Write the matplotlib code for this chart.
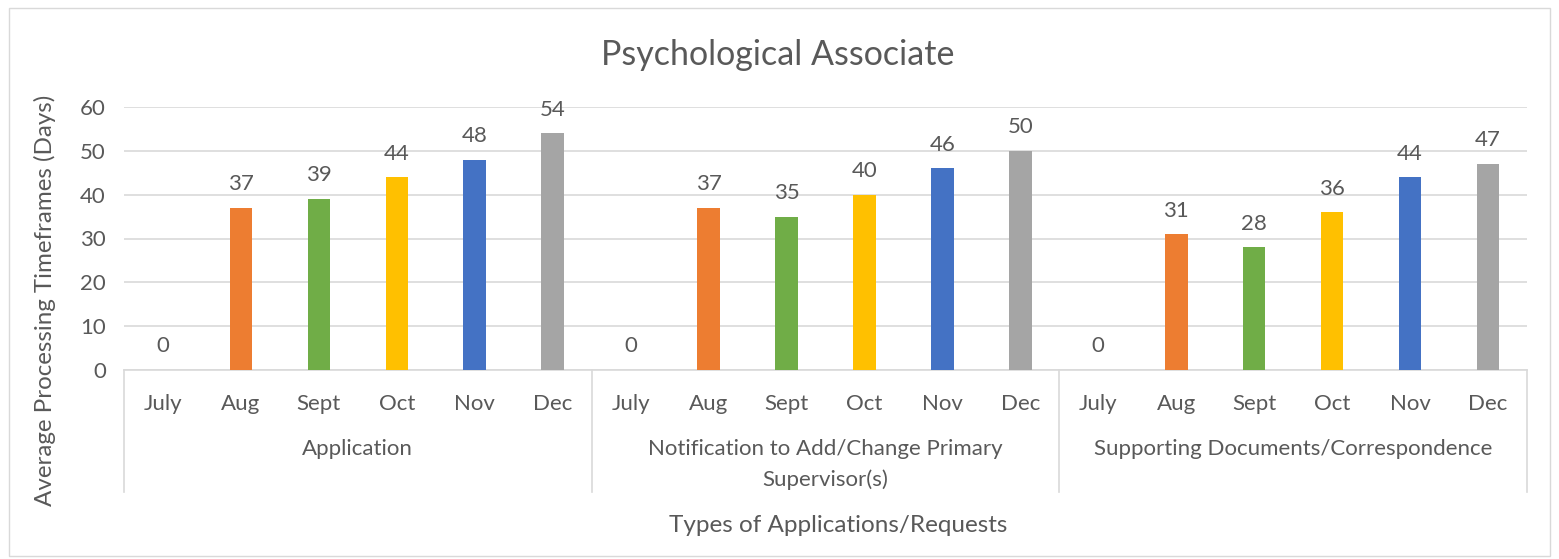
import matplotlib
matplotlib.use("Agg")
import matplotlib.pyplot as plt
import matplotlib.transforms as mtransforms
from matplotlib.patches import Rectangle

months = ["July", "Aug", "Sept", "Oct", "Nov", "Dec"]
groups = ["Application", "Notification to Add/Change Primary\nSupervisor(s)",
          "Supporting Documents/Correspondence"]
application = [0, 37, 39, 44, 48, 54]
notification = [0, 37, 35, 40, 46, 50]
supporting = [0, 31, 28, 36, 44, 47]
month_colors = ["#5B9BD5", "#ED7D31", "#70AD47", "#FFC000", "#4472C4", "#A5A5A5"]

txt = "#595959"
plt.rcParams['font.family'] = ['Lato', 'DejaVu Sans']

fig = plt.figure(figsize=(15.59, 5.59), dpi=100)
ax = fig.add_axes([124/1559, 1-370/559, (1527-124)/1559, (370-107)/559])

values = application + notification + supporting
xs = list(range(len(values)))
cols = month_colors * 3
ax.bar(xs, values, width=0.29, color=cols, zorder=3)
for x, v in zip(xs, values):
    ax.annotate(str(v), (x, v), xytext=(0, 17), textcoords='offset points',
                ha='center', va='center', fontsize=16, color=txt)

ax.set_xlim(-0.5, len(values) - 0.5)
ax.set_ylim(0, 60)
ax.set_yticks(range(0, 61, 10))
ax.set_xticks(xs, months * 3)
ax.tick_params(axis='both', length=0, labelsize=16, labelcolor=txt)
ax.tick_params(axis='y', pad=13)
ax.tick_params(axis='x', pad=17)
ax.grid(axis='y', color='#D9D9D9', linewidth=1.2, zorder=0)
for s in ['top', 'right', 'left']:
    ax.spines[s].set_visible(False)
ax.spines['bottom'].set_color('#D9D9D9')
ax.spines['bottom'].set_linewidth(1.2)

trans = mtransforms.blended_transform_factory(ax.transData, ax.transAxes)
for b in [-0.5, 5.5, 11.5, 17.5]:
    ax.plot([b, b], [0, -122/263], transform=trans, color='#D9D9D9',
            linewidth=1.2, clip_on=False)
for i, g in enumerate(groups):
    ax.text(i * 6 + 2.5, -69/263, g, transform=trans, ha='center', va='top',
            fontsize=16, color=txt, linespacing=1.65)

fig.text(778/1559, 1-55/559, "Psychological Associate", ha='center', va='center',
         fontsize=24.5, color=txt)
fig.text(838/1559, 1-525/559, "Types of Applications/Requests", ha='center',
         va='center', fontsize=17.5, color=txt)
fig.text(45/1559, 1-300/559, "Average Processing Timeframes (Days)", ha='center',
         va='center', rotation=90, fontsize=17.4, color=txt)

fig.patches.append(Rectangle((9/1559, 0.005), 1-18/1559, 1-0.02, transform=fig.transFigure,
                             fill=False, edgecolor='#D9D9D9', linewidth=1))

fig.savefig("out.png", dpi=100, facecolor='white')
